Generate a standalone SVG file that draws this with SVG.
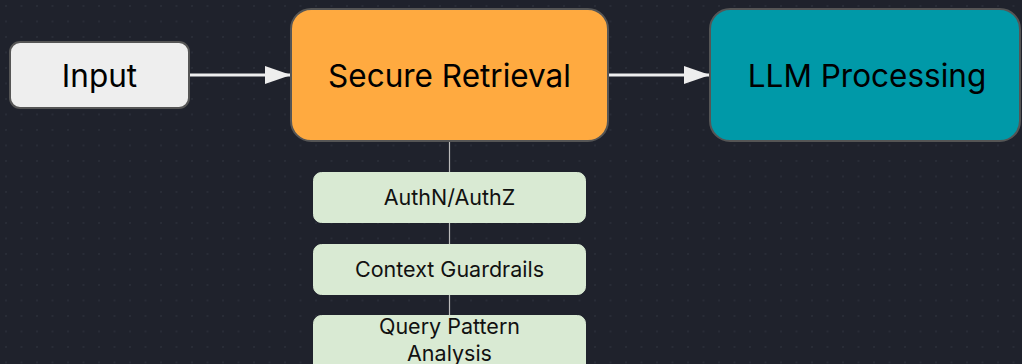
<svg xmlns="http://www.w3.org/2000/svg" width="1022" height="364" viewBox="0 0 1022 364">
<defs>
<pattern id="dots" width="15.5" height="15.5" patternUnits="userSpaceOnUse" x="5" y="5">
<circle cx="1" cy="1" r="0.9" fill="#2c303b"/>
</pattern>
<marker id="arr" markerWidth="26" markerHeight="18" refX="25" refY="9" orient="auto" markerUnits="userSpaceOnUse">
<path d="M0,0 L26,9 L0,18 Z" fill="#eeeeee"/>
</marker>
<style>
.big{font-family:Inter,"Liberation Sans",sans-serif;font-size:31.5px;fill:#000;text-anchor:middle}
.small{font-family:Inter,"Liberation Sans",sans-serif;font-size:21.5px;fill:#111;text-anchor:middle}
.sub{fill:#d9ead3;stroke:#d9ead3;stroke-width:1}
.main{stroke:#555;stroke-width:2}
</style>
</defs>
<rect width="1022" height="364" fill="#1f222c"/>
<rect width="1022" height="364" fill="url(#dots)"/>
<g id="connectors">
<line x1="449.5" y1="141" x2="449.5" y2="364" stroke="#bbbbbb" stroke-width="1.2"/>
<line x1="190" y1="75" x2="290" y2="75" stroke="#eeeeee" stroke-width="3" marker-end="url(#arr)"/>
<line x1="609" y1="75" x2="709" y2="75" stroke="#eeeeee" stroke-width="3" marker-end="url(#arr)"/>
</g>
<g id="input">
<rect class="main" x="10" y="42" width="179" height="66" rx="10" fill="#eeeeee"/>
<text class="big" x="99.5" y="87">Input</text>
</g>
<g id="secure-retrieval">
<rect class="main" x="291" y="9" width="317" height="132" rx="20" fill="#ffaa40"/>
<text class="big" x="449.5" y="87">Secure Retrieval</text>
</g>
<g id="llm-processing">
<rect class="main" x="710" y="9" width="310" height="132" rx="20" fill="#0099a8"/>
<text class="big" x="867" y="87">LLM Processing</text>
</g>
<g id="authn">
<rect class="sub" x="313.5" y="172.5" width="272" height="50" rx="8"/>
<text class="small" x="449.5" y="205">AuthN/AuthZ</text>
</g>
<g id="context">
<rect class="sub" x="313.5" y="244.5" width="272" height="50" rx="8"/>
<text class="small" x="449.5" y="277">Context Guardrails</text>
</g>
<g id="query">
<rect class="sub" x="313.5" y="315.5" width="272" height="60" rx="8"/>
<text class="small" x="449.5" y="334">Query Pattern</text>
<text class="small" x="449.5" y="361">Analysis</text>
</g>
</svg>
